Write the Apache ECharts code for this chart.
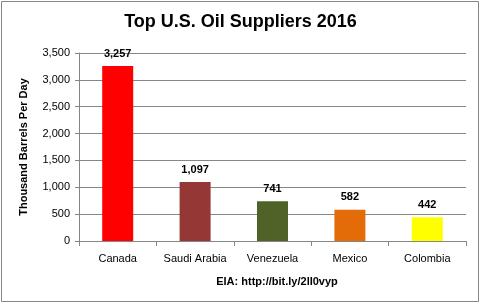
<!DOCTYPE html>
<html><head><meta charset="utf-8">
<script src="https://cdn.jsdelivr.net/npm/echarts@6/dist/echarts.min.js"></script>
<style>html,body{margin:0;padding:0;background:#fff}#c{width:481px;height:304px}</style>
</head><body><div id="c"></div>
<script>
const categories = ["Canada", "Saudi Arabia", "Venezuela", "Mexico", "Colombia"];
const values = [3257, 1097, 741, 582, 442];
const barColors = ["#FF0000", "#953735", "#4F6228", "#E36C09", "#FFFF00"];
const titleText = "Top U.S. Oil Suppliers 2016";
const yAxisName = "Thousand Barrels Per Day";
const sourceText = "EIA: http://bit.ly/2lI0vyp";

const chart = echarts.init(document.getElementById('c'), null, {renderer: 'canvas'});
const FONT = "'Liberation Sans', Arial, sans-serif";
chart.setOption({
  animation: false,
  backgroundColor: '#fff',
  textStyle: {fontFamily: FONT},
  title: [{
    text: titleText, left: 'center', top: 8,
    textStyle: {fontSize: 18, fontWeight: 'bold', color: '#000', fontFamily: FONT}
  }, {
    text: sourceText, left: 272, top: 271, textAlign: 'center',
    textStyle: {fontSize: 11, fontWeight: 'bold', color: '#000', fontFamily: FONT}
  }],
  graphic: [{
    type: 'rect', shape: {x: 1.5, y: 1.5, width: 477, height: 300},
    style: {fill: 'none', stroke: '#868686', lineWidth: 1}, silent: true
  }],
  grid: {left: 79, right: 15, top: 53, bottom: 63, containLabel: false},
  xAxis: {
    type: 'category', data: categories,
    axisLine: {lineStyle: {color: '#868686'}},
    axisTick: {show: true, length: 5, lineStyle: {color: '#868686'}, alignWithLabel: false},
    axisLabel: {fontSize: 11, color: '#000', margin: 12, interval: 0, fontFamily: FONT}
  },
  yAxis: {
    type: 'value', min: 0, max: 3500, interval: 500,
    name: yAxisName, nameLocation: 'middle', nameGap: 50, nameRotate: 90,
    nameTextStyle: {fontSize: 11, fontWeight: 'bold', color: '#000', fontFamily: FONT},
    axisLine: {show: true, lineStyle: {color: '#868686'}},
    axisTick: {show: true, length: 4, inside: false, lineStyle: {color: '#868686'}},
    splitLine: {lineStyle: {color: '#868686'}},
    axisLabel: {fontSize: 11, color: '#000', margin: 9, fontFamily: FONT,
      formatter: v => v.toLocaleString('en-US')}
  },
  series: [{
    type: 'bar', barWidth: 31,
    data: values.map((v, i) => ({value: v, itemStyle: {color: barColors[i]}})),
    label: {show: true, position: 'top', distance: 7, fontSize: 11, fontWeight: 'bold', color: '#000',
      fontFamily: FONT, formatter: p => p.value.toLocaleString('en-US')}
  }]
});
</script></body></html>
